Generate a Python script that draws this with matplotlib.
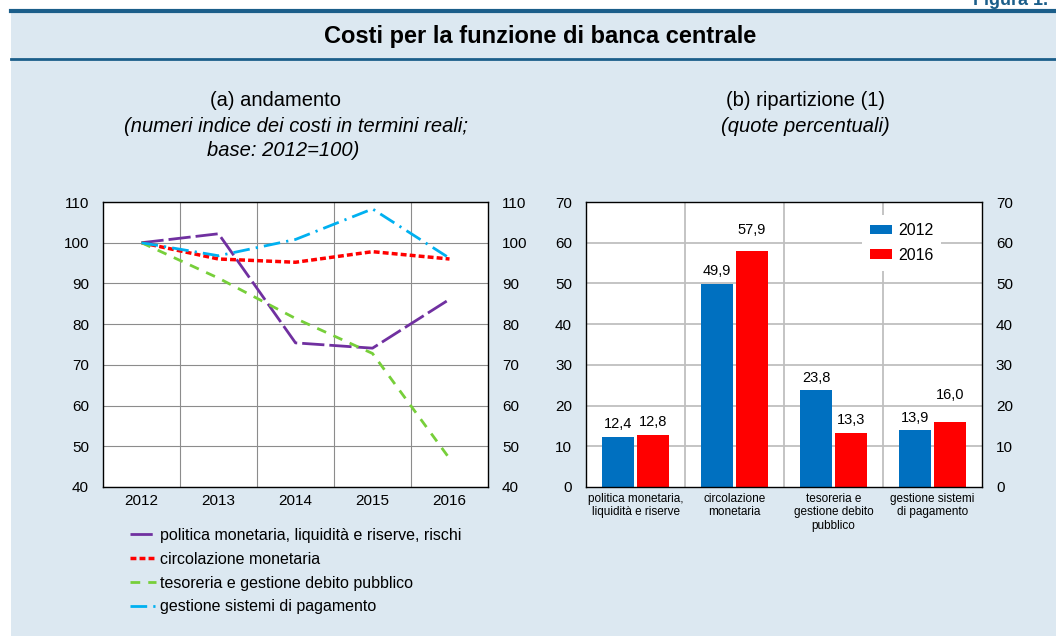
import matplotlib
matplotlib.use("Agg")
import matplotlib.pyplot as plt
from matplotlib.patches import Rectangle
from matplotlib.lines import Line2D
import numpy as np

plt.rcParams['font.family'] = ['Liberation Sans', 'DejaVu Sans']

# ---------------- data ----------------
years = ["2012", "2013", "2014", "2015", "2016"]
politica = [100, 102.2, 75.4, 74.1, 86.1]
circolazione = [100, 96.0, 95.2, 97.8, 96.0]
tesoreria = [100, 91.3, 81.4, 72.8, 47.0]
pagamento = [100, 96.8, 100.8, 108.3, 96.2]
series_labels = ["politica monetaria, liquidità e riserve, rischi",
                 "circolazione monetaria",
                 "tesoreria e gestione debito pubblico",
                 "gestione sistemi di pagamento"]

bar_categories = ["politica monetaria,\nliquidità e riserve",
                  "circolazione\nmonetaria",
                  "tesoreria e\ngestione debito\npubblico",
                  "gestione sistemi\ndi pagamento"]
share_2012 = [12.4, 49.9, 23.8, 13.9]
share_2016 = [12.8, 57.9, 13.3, 16.0]
bar_years = ["2012", "2016"]

left_yticks = [40, 50, 60, 70, 80, 90, 100, 110]
right_yticks = [0, 10, 20, 30, 40, 50, 60, 70]

# ---------------- figure ----------------
W, H = 1056, 636
fig = plt.figure(figsize=(W / 100, H / 100), dpi=100)
fig.patch.set_facecolor("white")

def fx(px):
    return px / W

def fy(py):
    return 1 - py / H

BG = "#DCE8F1"
LINE = "#1B5E8A"
bg = Rectangle((fx(11), 0), 1 - fx(11), fy(11), transform=fig.transFigure,
               facecolor=BG, edgecolor="none", zorder=-10)
fig.add_artist(bg)
fig.add_artist(Line2D([fx(11), 1], [fy(11), fy(11)], transform=fig.transFigure, color=LINE, lw=3, zorder=-5))
fig.add_artist(Line2D([fx(11), 1], [fy(59), fy(59)], transform=fig.transFigure, color=LINE, lw=2, zorder=-5))

fig.text(fx(973), fy(5), "Figura 1.", ha="left", va="baseline", fontsize=13,
         fontweight="bold", color=LINE)
fig.text(fx(540), fy(36), "Costi per la funzione di banca centrale", ha="center", va="center",
         fontsize=17, fontweight="bold", color="black")

fig.text(fx(275), fy(100), "(a) andamento", ha="center", va="center", fontsize=14.5)
fig.text(fx(296), fy(126), "(numeri indice dei costi in termini reali;", ha="center", va="center",
         fontsize=14.5, style="italic")
fig.text(fx(283), fy(150), "base: 2012=100)", ha="center", va="center", fontsize=14.5, style="italic")

fig.text(fx(805), fy(100), "(b) ripartizione (1)", ha="center", va="center", fontsize=14.5)
fig.text(fx(805), fy(126), "(quote percentuali)", ha="center", va="center", fontsize=14.5, style="italic")

# ---------------- left chart ----------------
ax1 = fig.add_axes([fx(103), fy(487), fx(488) - fx(103), (487 - 202) / H])
ax1.set_facecolor("white")
x = np.arange(len(years))
styles = [
    dict(color="#7030A0", lw=2.0, dashes=(8, 1.8)),
    dict(color="#FF0000", lw=2.5, dashes=(1.7, 0.9)),
    dict(color="#77CF3A", lw=2.0, dashes=(3.5, 2.9)),
    dict(color="#00B0F0", lw=2.0, dashes=(6, 2.2, 0.8, 2.2)),
]
for vals, st, lab in zip([politica, circolazione, tesoreria, pagamento], styles, series_labels):
    ax1.plot(x, vals, label=lab, zorder=3, **st)
ax1.set_xlim(-0.5, len(years) - 0.5)
ax1.set_ylim(40, 110)
ax1.set_yticks(left_yticks)
ax1.set_xticks(x)
ax1.set_xticklabels(years)
for t in left_yticks:
    ax1.axhline(t, color="#8C8C8C", lw=0.8, zorder=1)
for m in np.arange(len(years) - 1) + 0.5:
    ax1.axvline(m, color="#8C8C8C", lw=0.8, zorder=1)
ax1.tick_params(axis="y", length=0, labelsize=11, pad=10, labelleft=True, labelright=True)
ax1.tick_params(axis="x", length=0, labelsize=11, pad=5)
for sp in ax1.spines.values():
    sp.set_color("black")
    sp.set_linewidth(1.0)
    sp.set_zorder(4)

handles, labels = ax1.get_legend_handles_labels()
fig.legend(handles, labels, loc="upper left", bbox_to_anchor=(fx(130), fy(528)),
           frameon=False, fontsize=11.5, handlelength=1.6, handletextpad=0.25,
           labelspacing=0.55, borderaxespad=0, borderpad=0)

# ---------------- right chart ----------------
ax2 = fig.add_axes([fx(586), fy(487), fx(982) - fx(586), (487 - 202) / H])
ax2.set_facecolor("white")
xc = np.arange(len(bar_categories))
bw = 0.33
off = 0.177
b1 = ax2.bar(xc - off, share_2012, bw, color="#0070C0", label=bar_years[0], zorder=3)
b2 = ax2.bar(xc + off, share_2016, bw, color="#FF0000", label=bar_years[1], zorder=3)
ax2.set_xlim(-0.5, len(bar_categories) - 0.5)
ax2.set_ylim(0, 70)
ax2.set_yticks(right_yticks)
for t in right_yticks[1:]:
    ax2.axhline(t, color="#BFBFBF", lw=1.3, zorder=1)
for m in np.arange(len(bar_categories) - 1) + 0.5:
    ax2.axvline(m, color="#BFBFBF", lw=1.3, zorder=1)
ax2.set_xticks(xc)
ax2.set_xticklabels(bar_categories, fontsize=8.5, linespacing=1.2)
ax2.tick_params(axis="x", length=0, pad=4)
ax2.tick_params(axis="y", length=0, labelsize=11, pad=10, labelleft=True, labelright=True)
for sp in ax2.spines.values():
    sp.set_color("black")
    sp.set_linewidth(1.0)
    sp.set_zorder(4)

extra_lift = {(1, 1): 6, (3, 1): 10}
for j, bars in enumerate([b1, b2]):
    for i, r in enumerate(bars):
        v = r.get_height()
        ax2.annotate(f"{v:.1f}".replace(".", ","), (r.get_x() + r.get_width() / 2, v),
                     xytext=(0, 4 + extra_lift.get((i, j), 0)), textcoords="offset points",
                     ha="center", va="bottom", fontsize=10.5, zorder=5)

leg = ax2.legend(loc="upper left", bbox_to_anchor=((862 - 586) / 396, (487 - 215) / 285),
                 frameon=True, fontsize=11.5, handlelength=1.4, handleheight=0.55,
                 handletextpad=0.35, labelspacing=0.6, borderaxespad=0, borderpad=0.5,
                 fancybox=False)
leg.get_frame().set_facecolor("white")
leg.get_frame().set_edgecolor("none")
leg.get_frame().set_alpha(1)
leg.set_zorder(6)

fig.savefig("out.png", dpi=100, facecolor=fig.get_facecolor())
